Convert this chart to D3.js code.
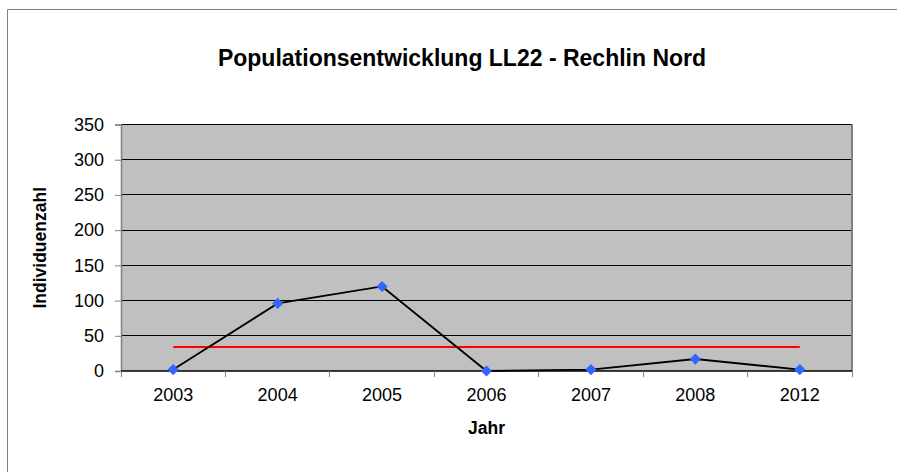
<!DOCTYPE html>
<html>
<head>
<meta charset="utf-8">
<script src="https://cdn.jsdelivr.net/npm/d3@7"></script>
<style>
  body { margin: 0; background: #fff; }
  text { font-family: "Liberation Sans", Arial, sans-serif; }
</style>
</head>
<body>
<script>
const w = 897;
const h = 472;

// data
const years = ["2003", "2004", "2005", "2006", "2007", "2008", "2012"];
const counts = [2, 96, 120, 0, 2, 17, 2];
const meanValue = 34;
const yTicks = [0, 50, 100, 150, 200, 250, 300, 350];

const margin = {left: 121, right: 45, top: 124.5, bottom: 101};

let svg = d3.select("body")
  .append("svg")
    .attr("width", w)
    .attr("height", h);

// outer chart frame (only top and left edges are in view)
svg.append("line")
  .attr("x1", 7.5).attr("x2", w).attr("y1", 9.5).attr("y2", 9.5)
  .attr("stroke", "#808080");
svg.append("line")
  .attr("x1", 7.5).attr("x2", 7.5).attr("y1", 9.5).attr("y2", h)
  .attr("stroke", "#808080");

let x = d3.scaleBand()
  .domain(years)
  .range([margin.left, w - margin.right]);

let y = d3.scaleLinear()
  .domain([0, 350])
  .range([h - margin.bottom, margin.top]);

// plot background
svg.append("rect")
  .attr("x", margin.left).attr("y", margin.top)
  .attr("width", w - margin.right - margin.left)
  .attr("height", h - margin.bottom - margin.top)
  .attr("fill", "#c0c0c0");

// gridlines
svg.append("g")
  .selectAll("line")
  .data(yTicks.filter(t => t > 0))
  .enter()
  .append("line")
    .attr("x1", margin.left).attr("x2", w - margin.right)
    .attr("y1", d => y(d)).attr("y2", d => y(d))
    .attr("stroke", "#000")
    .attr("stroke-width", 1)
    .attr("shape-rendering", "crispEdges");

// plot border (right side)
svg.append("line")
  .attr("x1", w - margin.right).attr("x2", w - margin.right)
  .attr("y1", margin.top).attr("y2", h - margin.bottom)
  .attr("stroke", "#808080")
  .attr("stroke-width", 2);

// y axis
let yAxis = svg.append("g")
  .attr("transform", "translate(" + margin.left + ",0)")
  .call(d3.axisLeft(y).tickValues(yTicks).tickSize(6).tickPadding(11));
yAxis.select(".domain").attr("stroke", "#808080").attr("stroke-width", 1.5);
yAxis.selectAll(".tick line").attr("stroke", "#808080");
yAxis.selectAll("text")
  .attr("font-size", 18)
  .attr("fill", "#000")
  .style("font-family", "'Liberation Sans', Arial, sans-serif");

// x axis (ticks between categories)
let xAxisG = svg.append("g")
  .attr("transform", "translate(0," + (h - margin.bottom) + ")");
xAxisG.append("line")
  .attr("x1", margin.left).attr("x2", w - margin.right)
  .attr("y1", 0).attr("y2", 0)
  .attr("stroke", "#000")
  .attr("stroke-width", 1.5);
let bounds = years.map(d => x(d)).concat([x.range()[1]]);
xAxisG.selectAll(".sep")
  .data(bounds)
  .enter()
  .append("line")
    .attr("class", "sep")
    .attr("x1", d => d).attr("x2", d => d)
    .attr("y1", 0).attr("y2", 6)
    .attr("stroke", "#808080")
    .attr("shape-rendering", "crispEdges");
xAxisG.selectAll(".lbl")
  .data(years)
  .enter()
  .append("text")
    .attr("class", "lbl")
    .attr("x", d => x(d) + x.bandwidth() / 2)
    .attr("y", 30)
    .attr("text-anchor", "middle")
    .attr("font-size", 18)
    .text(d => d);

// mean line
let cx = d => x(d) + x.bandwidth() / 2;
svg.append("line")
  .attr("x1", cx(years[0])).attr("x2", cx(years[years.length - 1]))
  .attr("y1", y(meanValue)).attr("y2", y(meanValue))
  .attr("stroke", "#ff0000")
  .attr("stroke-width", 2);

// data line
let line = d3.line()
  .x((d, i) => cx(years[i]))
  .y(d => y(d));
svg.append("path")
  .datum(counts)
  .attr("d", line)
  .attr("fill", "none")
  .attr("stroke", "#000")
  .attr("stroke-width", 1.8);

// diamond markers
svg.selectAll(".pt")
  .data(counts)
  .enter()
  .append("path")
    .attr("class", "pt")
    .attr("d", d3.symbol().type(d3.symbolDiamond2).size(80))
    .attr("transform", (d, i) => "translate(" + cx(years[i]) + "," + y(d) + ")")
    .attr("fill", "#3366ff");

// title
svg.append("text")
  .attr("x", 462).attr("y", 66)
  .attr("text-anchor", "middle")
  .attr("font-size", 23)
  .attr("font-weight", "bold")
  .text("Populationsentwicklung LL22 - Rechlin Nord");

// axis titles
svg.append("text")
  .attr("x", (margin.left + w - margin.right) / 2).attr("y", 434)
  .attr("text-anchor", "middle")
  .attr("font-size", 17.5)
  .attr("font-weight", "bold")
  .text("Jahr");

svg.append("text")
  .attr("transform", "translate(46," + (margin.top + h - margin.bottom) / 2 + ") rotate(-90)")
  .attr("text-anchor", "middle")
  .attr("font-size", 17.5)
  .attr("font-weight", "bold")
  .text("Individuenzahl");
</script>
</body>
</html>
